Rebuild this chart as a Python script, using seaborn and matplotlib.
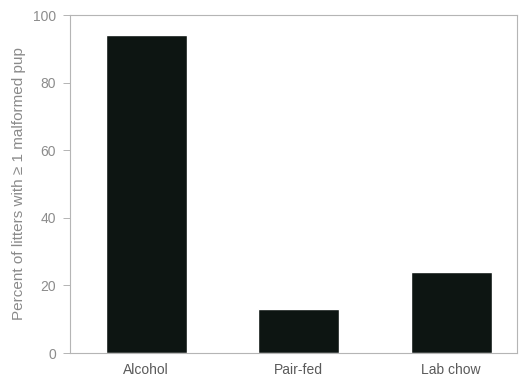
import matplotlib
matplotlib.use("Agg")
import matplotlib.pyplot as plt
import seaborn as sns
import pandas as pd

groups = ["Alcohol", "Pair-fed", "Lab chow"]
percent_malformed = [94, 13, 24]
y_ticks = [0, 20, 40, 60, 80, 100]

sns.set_style("white")
plt.rcParams["font.family"] = ["Liberation Sans", "DejaVu Sans"]

df = pd.DataFrame({"group": groups, "percent": percent_malformed})

fig = plt.figure(figsize=(5.21, 3.76), dpi=100)
ax = fig.add_axes([0.134, 0.061, 0.858, 0.899])

sns.barplot(data=df, x="group", y="percent", color="#0d1512",
            saturation=1, width=0.53, ax=ax)

ax.set_xlim(-0.5, 2.43)
ax.set_ylim(0, 100)
ax.set_yticks(y_ticks)
ax.set_yticklabels([str(t) for t in y_ticks])
ax.set_xlabel("")
ax.set_ylabel("Percent of litters with \u2265 1 malformed pup",
              fontsize=11, color="#8a8a8a", labelpad=5)

ax.tick_params(axis="y", length=5, width=0.6, color="#a8a8a8",
               labelsize=10, labelcolor="#8c8c8c", pad=5, left=True)
ax.tick_params(axis="x", length=0, labelsize=10, labelcolor="#5a5a5a", pad=7)

for side in ["left", "bottom", "top", "right"]:
    ax.spines[side].set_visible(True)
    ax.spines[side].set_color("#b5b5b5")
    ax.spines[side].set_linewidth(0.8)

fig.savefig("out.png", dpi=100, facecolor="white")
